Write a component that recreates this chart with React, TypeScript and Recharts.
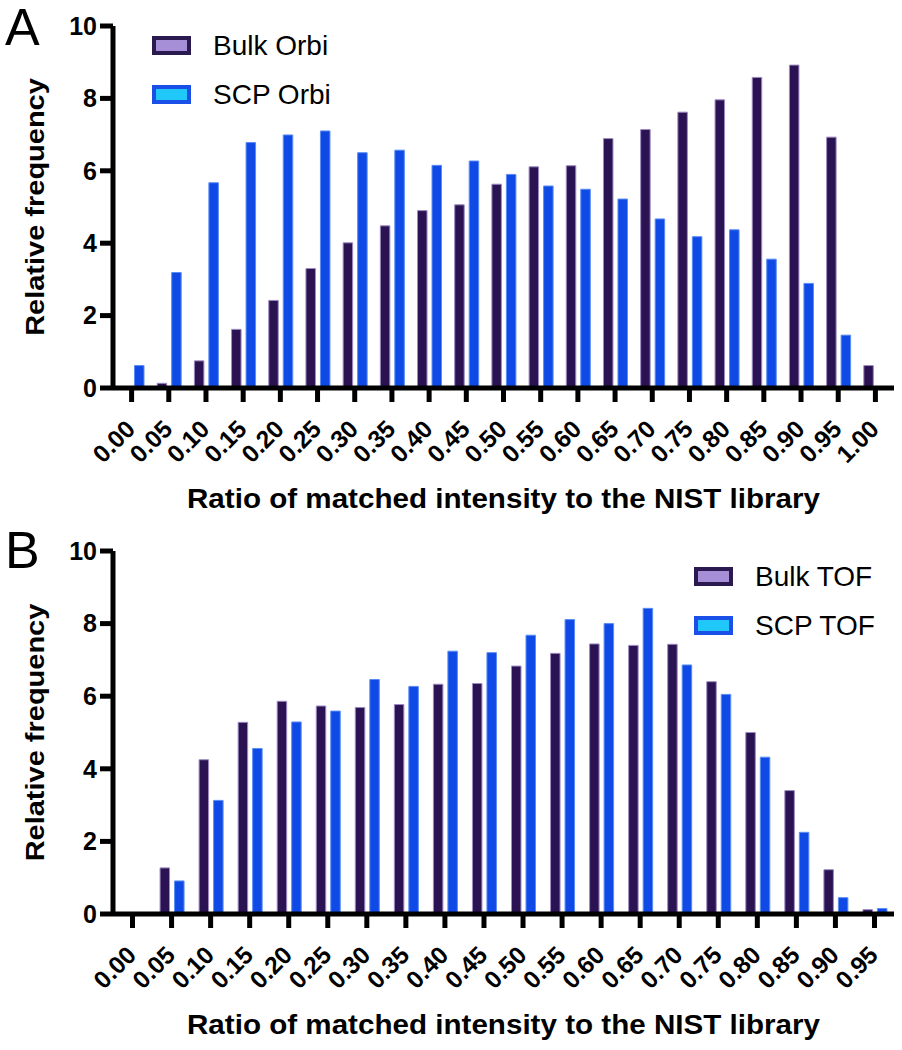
import React from 'react';
import { BarChart, Bar, XAxis, YAxis, Legend } from 'recharts';

const orbiCategories = ['0.00','0.05','0.10','0.15','0.20','0.25','0.30','0.35','0.40','0.45','0.50','0.55','0.60','0.65','0.70','0.75','0.80','0.85','0.90','0.95','1.00'];
const bulkOrbi = [0, 0.13, 0.75, 1.62, 2.42, 3.30, 4.01, 4.48, 4.90, 5.06, 5.63, 6.11, 6.14, 6.89, 7.14, 7.62, 7.96, 8.58, 8.92, 6.93, 0.62];
const scpOrbi = [0.62, 3.19, 5.67, 6.78, 6.99, 7.10, 6.50, 6.57, 6.15, 6.27, 5.90, 5.58, 5.49, 5.22, 4.67, 4.18, 4.37, 3.56, 2.89, 1.46, 0];

const tofCategories = ['0.00','0.05','0.10','0.15','0.20','0.25','0.30','0.35','0.40','0.45','0.50','0.55','0.60','0.65','0.70','0.75','0.80','0.85','0.90','0.95'];
const bulkTof = [0, 1.27, 4.25, 5.28, 5.86, 5.73, 5.69, 5.77, 6.33, 6.35, 6.83, 7.18, 7.44, 7.40, 7.43, 6.40, 5.00, 3.40, 1.22, 0.12];
const scpTof = [0, 0.91, 3.13, 4.56, 5.29, 5.59, 6.46, 6.27, 7.24, 7.20, 7.68, 8.11, 8.00, 8.42, 6.86, 6.05, 4.32, 2.25, 0.45, 0.15];

const yTicks = [0, 2, 4, 6, 8, 10];
const xTitle = 'Ratio of matched intensity to the NIST library';
const yTitle = 'Relative frequency';

const orbiData = orbiCategories.map((c, i) => ({ cat: c, bulk: bulkOrbi[i], scp: scpOrbi[i] }));
const tofData = tofCategories.map((c, i) => ({ cat: c, bulk: bulkTof[i], scp: scpTof[i] }));

const FONT = '"Liberation Sans", Arial, Helvetica, sans-serif';
const BULK_FILL = '#2b1252';
const BULK_STROKE = '#9c8cc0';
const SCP_FILL = '#104ae6';
const SCP_STROKE = '#5a8cf5';

const XTick = (props: any) => {
  const { x, y, payload } = props;
  return (
    <g transform={`translate(${x + 5},${y + 26.5})`}>
      <text x={0} y={0} textAnchor="end" transform="rotate(-45)" fontSize={24.5} fontWeight="bold" fill="#000" fontFamily={FONT}>
        {payload.value}
      </text>
    </g>
  );
};

const makeYLabel = () => (props: any) => {
  const vb = props.viewBox;
  const cy = vb.y + vb.height / 2;
  return (
    <g transform={`translate(35,${cy}) scale(0.88,1) rotate(-90)`}>
      <text x={0} y={0} textAnchor="middle" dominantBaseline="central" fontSize={29} fontWeight="bold" fill="#000" fontFamily={FONT}>
        {yTitle}
      </text>
    </g>
  );
};

const makeXLabel = (dy: number) => (props: any) => {
  const vb = props.viewBox;
  const cx = vb.x + vb.width / 2;
  return (
    <text x={cx} y={vb.y + dy} textAnchor="middle" fontSize={28} fontWeight="bold" fill="#000" fontFamily={FONT} textLength={633} lengthAdjust="spacingAndGlyphs">
      {xTitle}
    </text>
  );
};

const makeLegend = (labels: string[]) => () => {
  const sw = [
    { outer: '#2b1a50', inner: '#a78fd8' },
    { outer: '#1a4fe8', inner: '#20c8fa' },
  ];
  return (
    <div style={{ fontFamily: FONT }}>
      {labels.map((lab, i) => (
        <div key={lab} style={{ display: 'flex', alignItems: 'center', height: 49 }}>
          <svg width={39} height={19} style={{ display: 'block' }}>
            <rect x={2} y={2} width={35} height={15} fill={sw[i].inner} stroke={sw[i].outer} strokeWidth={4} />
          </svg>
          <span style={{ marginLeft: 22, fontSize: 28, color: '#000', lineHeight: '28px', whiteSpace: 'nowrap' }}>{lab}</span>
        </div>
      ))}
    </div>
  );
};

const axisStroke = { stroke: '#000', strokeWidth: 5 };

const Panel = ({ data, labels, legendPos, top, height, bottom, titleDy }: any) => (
  <BarChart
    width={902}
    height={height}
    data={data}
    margin={{ top, right: 8, bottom, left: 0 }}
    barGap={5}
  >
    <XAxis
      dataKey="cat"
      interval={0}
      tickSize={14}
      tickMargin={2}
      height={130}
      axisLine={axisStroke}
      tickLine={axisStroke}
      tick={<XTick />}
      label={{ content: makeXLabel(titleDy) }}
    />
    <YAxis
      type="number"
      domain={[0, 10]}
      ticks={yTicks}
      interval={0}
      width={113}
      tickSize={13}
      tickMargin={3}
      axisLine={axisStroke}
      tickLine={axisStroke}
      tick={{ fill: '#000', fontSize: 25, fontWeight: 'bold', fontFamily: FONT }}
      label={{ content: makeYLabel() }}
    />
    <Legend
      layout="vertical"
      align="center"
      verticalAlign="middle"
      width={300}
      height={98}
      wrapperStyle={{ left: legendPos.left, top: legendPos.top, right: 'auto', bottom: 'auto', margin: 0 }}
      content={makeLegend(labels)}
    />
    <Bar dataKey="bulk" name={labels[0]} barSize={9.5} fill={BULK_FILL} stroke={BULK_STROKE} strokeWidth={1} isAnimationActive={false} />
    <Bar dataKey="scp" name={labels[1]} barSize={9.5} fill={SCP_FILL} stroke={SCP_STROKE} strokeWidth={1} isAnimationActive={false} />
  </BarChart>
);

export default function App() {
  return (
    <div style={{ position: 'absolute', left: 0, top: 0, width: 902, height: 1050, background: '#fff', fontFamily: FONT }}>
      <div style={{ position: 'absolute', left: 0, top: 0 }}>
        <Panel data={orbiData} labels={['Bulk Orbi', 'SCP Orbi']} legendPos={{ left: 152, top: 21 }} top={26} height={520} bottom={2} titleDy={120} />
      </div>
      <div style={{ position: 'absolute', left: 0, top: 520 }}>
        <Panel data={tofData} labels={['Bulk TOF', 'SCP TOF']} legendPos={{ left: 694, top: 32 }} top={31} height={530} bottom={6} titleDy={120} />
      </div>
      <div style={{ position: 'absolute', left: 5, top: 1, fontSize: 52, lineHeight: '52px', color: '#000', fontFamily: FONT }}>A</div>
      <div style={{ position: 'absolute', left: 5, top: 524, fontSize: 52, lineHeight: '52px', color: '#000', fontFamily: FONT }}>B</div>
    </div>
  );
}
